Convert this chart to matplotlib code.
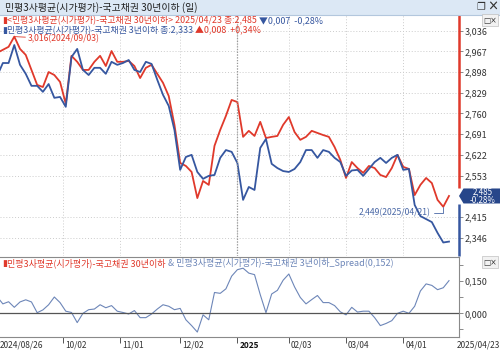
import numpy as np
import matplotlib.pyplot as plt
from matplotlib.patches import Rectangle, Polygon
from matplotlib.lines import Line2D
from matplotlib.text import Annotation
from matplotlib.transforms import ScaledTranslation

plt.rcParams['font.family'] = ['Noto Sans CJK KR', 'DejaVu Sans']

# trading-day index, 2024/08/26 = 0, one value every 2 trading days
day_idx = np.arange(0, 159, 2)

# 민평3사평균 - 국고채권 30년이하
red_30y = [2.962, 2.972, 2.982, 3.016, 2.975, 2.955, 2.905, 2.855, 2.848, 2.898,
           2.888, 2.865, 2.792, 2.952, 2.932, 2.905, 2.905, 2.932, 2.952, 2.918,
           2.968, 2.932, 2.932, 2.935, 2.918, 2.878, 2.912, 2.922, 2.892, 2.862,
           2.818, 2.722, 2.595, 2.585, 2.565, 2.478, 2.535, 2.522, 2.652, 2.705,
           2.752, 2.805, 2.798, 2.682, 2.702, 2.685, 2.732, 2.678, 2.682, 2.685,
           2.722, 2.748, 2.698, 2.672, 2.682, 2.702, 2.695, 2.688, 2.682, 2.648,
           2.605, 2.545, 2.598, 2.578, 2.562, 2.585, 2.578, 2.555, 2.548, 2.578,
           2.622, 2.582, 2.575, 2.488, 2.522, 2.545, 2.528, 2.472, 2.449, 2.485]

# 민평3사평균 - 국고채권 3년이하
blue_3y = [2.885, 2.928, 2.928, 2.988, 2.922, 2.892, 2.852, 2.852, 2.832, 2.858,
           2.812, 2.815, 2.782, 2.948, 2.975, 2.905, 2.888, 2.912, 2.912, 2.892,
           2.932, 2.922, 2.928, 2.938, 2.905, 2.898, 2.932, 2.925, 2.872, 2.822,
           2.785, 2.705, 2.572, 2.615, 2.622, 2.565, 2.542, 2.552, 2.555, 2.612,
           2.638, 2.632, 2.595, 2.472, 2.515, 2.505, 2.645, 2.675, 2.592, 2.578,
           2.568, 2.565, 2.575, 2.598, 2.638, 2.638, 2.612, 2.638, 2.632, 2.612,
           2.598, 2.552, 2.570, 2.572, 2.552, 2.575, 2.598, 2.612, 2.595, 2.612,
           2.622, 2.572, 2.575, 2.455, 2.418, 2.408, 2.398, 2.362, 2.330, 2.333]

spread = np.array(red_30y) - np.array(blue_3y)

red_chg, red_pct = -0.007, -0.28
blue_chg, blue_pct = 0.008, 0.34
max_idx, max_label = 6, '3,016(2024/09/03)'
min_idx, min_label = 156, '2,449(2025/04/21)'

y_ticks = [3.036, 2.967, 2.898, 2.829, 2.760, 2.691, 2.622, 2.553, 2.415, 2.346]
date_ticks = [23, 43, 64, 84, 102, 122, 142]
date_labels = ['10/02', '11/01', '12/02', '2025', '02/03', '03/04', '04/01']
first_date, last_date = '2024/08/26', '2025/04/23'


def kfmt(v, n=3):
    return f'{v:.{n}f}'.replace('.', ',')


RED = '#e0392b'
BLUE = '#3657a0'
SPREAD = '#6d86b8'

W, H = 500, 351
fig = plt.figure(figsize=(W / 100, H / 100), dpi=100)


def box(x0, y0, x1, y1):
    return [x0 / W, 1 - y1 / H, (x1 - x0) / W, (y1 - y0) / H]


def rich(x, y, parts, size):
    # several coloured pieces of text placed one after the other
    t = fig.text(x / W, 1 - y / H, parts[0][0], color=parts[0][1], fontsize=size,
                 va='center', ha='left', zorder=10)
    for s, c in parts[1:]:
        t = fig.add_artist(Annotation(s, xy=(1, 0.5), xycoords=t, color=c, fontsize=size,
                                      va='center', ha='left', zorder=10))


# title bar
fig.add_artist(Rectangle((0, 1 - 15 / H), 1, 15 / H, transform=fig.transFigure,
                         facecolor='#dce8f5', edgecolor='none'))
fig.add_artist(Line2D([0, 1], [1 - 15 / H] * 2, color='#b3c7dd', lw=0.8))
fig.text(5 / W, 1 - 7.5 / H, '민평3사평균(시가평가)-국고채권 30년이하 (일)',
         fontsize=7.1, color='#222', va='center', ha='left')
fig.text(481 / W, 1 - 7.5 / H, '❐', fontsize=7, family='DejaVu Sans', va='center', ha='center', color='#333')
fig.text(493 / W, 1 - 7.5 / H, '×', fontsize=8, fontweight='bold', va='center', ha='center', color='#333')

# ---- main panel ----
ax = fig.add_axes(box(0, 15, 459, 256))
ax.plot(day_idx, red_30y, color=RED, lw=1.3)
ax.plot(day_idx, blue_3y, color=BLUE, lw=1.3)
ax.set_xlim(1.0, 161.5)
ax.set_ylim(2.285, 3.088)
for s in ax.spines.values():
    s.set_visible(False)
ax.yaxis.tick_right()
ax.set_yticks(y_ticks)
ax.set_yticklabels([kfmt(v) for v in y_ticks], fontsize=6.5, color='#333')
ax.tick_params(axis='y', direction='out', length=3, width=0.6, color='#777', pad=1)
ax.set_xticks(date_ticks)
ax.set_xticklabels([])
ax.tick_params(axis='x', length=0)
ax.grid(True, linestyle=(0, (1, 2)), color='#cccccc', lw=0.7)
ax.axvline(84, color='#999999', linestyle=(0, (1, 1.2)), lw=0.9)

last = red_30y[-1]
ax.plot([1, 1], [3.088, last + 0.027], transform=ax.get_yaxis_transform(),
        color=RED, lw=1.8, clip_on=False, solid_capstyle='butt')
ax.plot([1, 1], [last - 0.028, 2.285], transform=ax.get_yaxis_transform(),
        color=BLUE, lw=1.8, clip_on=False, solid_capstyle='butt')

tag = fig.dpi_scale_trans + ScaledTranslation(1.0, last, ax.get_yaxis_transform())
ax.add_patch(Polygon([(0, 0), (0.045, 0.075), (0.41, 0.075), (0.41, -0.075), (0.045, -0.075)],
                     closed=True, transform=tag, facecolor='#27468a', edgecolor='none', clip_on=False))
ax.text(0.235, 0, f'{kfmt(last)}\n{red_pct:+.2f}%'.replace('.', ','), transform=tag,
        ha='center', va='center', color='white', fontsize=5.8, linespacing=0.95, clip_on=False)

ax.annotate(max_label, xy=(max_idx, max(red_30y)), xytext=(10, -1.8), textcoords='offset points',
            ha='left', va='center', fontsize=6.2, color=RED,
            arrowprops=dict(arrowstyle='-', color=RED, lw=0.6, shrinkA=0, shrinkB=0))
ax.annotate(min_label, xy=(min_idx, min(red_30y)), xytext=(-9.5, -4.5), textcoords='offset points',
            ha='right', va='center', fontsize=6.2, color='#4a68a6',
            arrowprops=dict(arrowstyle='-', color='#4a68a6', lw=0.6, shrinkA=1, shrinkB=0,
                            connectionstyle='angle,angleA=0,angleB=90,rad=0'))

rich(2, 20.5, [('▮', RED), ('<민평3사평균(시가평가)-국고채권 30년이하> 2025/04/23 종:' + kfmt(last) + ' ', RED),
               (f'▼{kfmt(abs(red_chg))}  {red_pct:+.2f}%'.replace('.', ','), BLUE)], 6.4)
rich(2, 31, [('▮', BLUE), ('민평3사평균(시가평가)-국고채권 3년이하 종:' + kfmt(blue_3y[-1]) + ' ', BLUE),
             (f'▲{kfmt(blue_chg)}  {blue_pct:+.2f}%'.replace('.', ','), RED)], 6.4)

fig.text(490 / W, 1 - 20 / H, '□×', fontsize=5.5, family='DejaVu Sans', color='#333', ha='center', va='center',
         bbox=dict(boxstyle='square,pad=0.15', facecolor='#f2f2f2', edgecolor='#c0c0c0', lw=0.5))

# ---- spread panel ----
axl = fig.add_axes(box(0, 257, 459, 337))
axl.plot(day_idx, spread, color=SPREAD, lw=0.8)
axl.axhline(0, color='#555555', lw=0.9)
axl.set_xlim(1.0, 161.5)
axl.set_ylim(-0.110, 0.262)
axl.spines['left'].set_visible(False)
for k in ['top', 'bottom', 'right']:
    axl.spines[k].set_color('#8a8a8a')
    axl.spines[k].set_linewidth(0.8)
axl.yaxis.tick_right()
axl.set_yticks([0.0, 0.15])
axl.set_yticklabels([kfmt(v) for v in [0.0, 0.15]], fontsize=6.5, color='#333')
axl.set_yticks([-0.075, 0.075, 0.225], minor=True)
axl.tick_params(axis='y', which='both', direction='out', length=3, width=0.6, color='#777', pad=1)
axl.set_xticks(date_ticks)
axl.set_xticklabels([])
axl.tick_params(axis='x', direction='out', length=4, width=0.7, color='#555')

for pos, lab in zip(date_ticks, date_labels):
    axl.annotate(lab, xy=(pos, 0), xycoords=('data', 'axes fraction'), xytext=(1.5, -5.8),
                 textcoords='offset points', ha='left', va='center', fontsize=6,
                 color='#111' if lab == '2025' else '#333',
                 fontweight='bold' if lab == '2025' else 'normal', annotation_clip=False)
axl.annotate(first_date, xy=(0, 0), xycoords='axes fraction', xytext=(0, -5.8), textcoords='offset points',
             ha='left', va='center', fontsize=6, color='#333', annotation_clip=False)
axl.annotate(last_date, xy=(1, 0), xycoords='axes fraction', xytext=(-1.5, -5.8), textcoords='offset points',
             ha='left', va='center', fontsize=6, color='#333', annotation_clip=False)

rich(2, 263.5, [('▮', RED), ('민평3사평균(시가평가)-국고채권 30년이하', RED),
                (' & 민평3사평균(시가평가)-국고채권 3년이하_Spread(' + kfmt(spread[-1]) + ')', SPREAD)], 6.5)
fig.text(490 / W, 1 - 262 / H, '□×', fontsize=5.5, family='DejaVu Sans', color='#333', ha='center', va='center',
         bbox=dict(boxstyle='square,pad=0.15', facecolor='#f2f2f2', edgecolor='#c0c0c0', lw=0.5))

fig.savefig('out.png', dpi=100)
